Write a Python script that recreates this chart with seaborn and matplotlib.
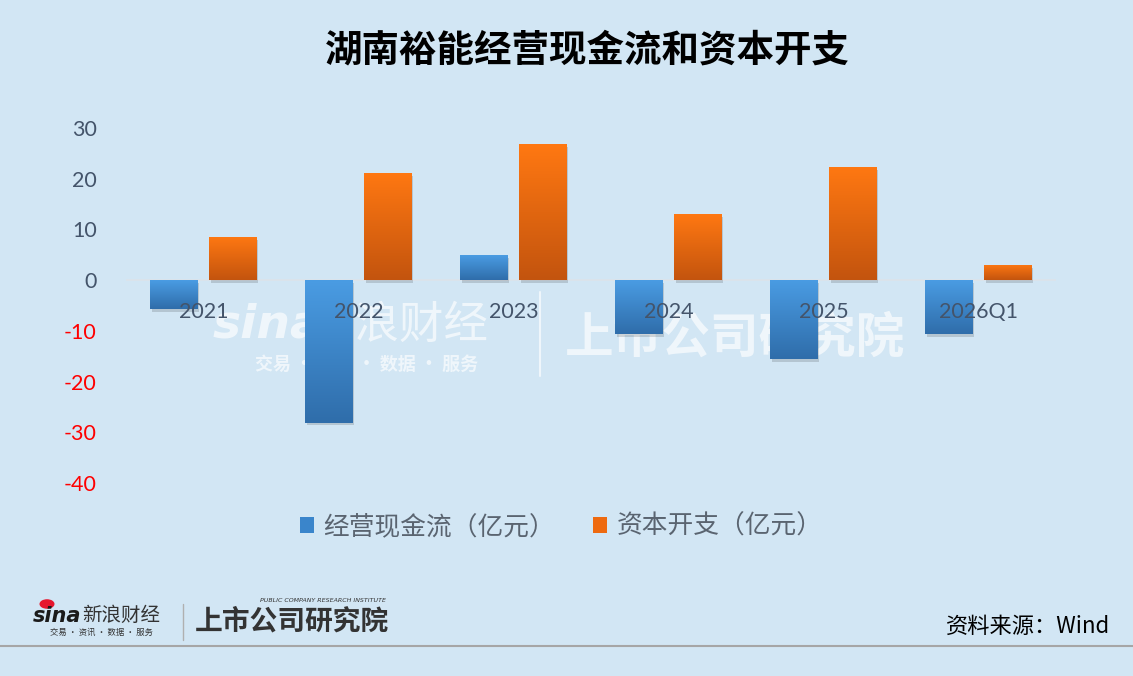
import numpy as np
import pandas as pd
import matplotlib
matplotlib.use('Agg')
import matplotlib.pyplot as plt
import seaborn as sns
from matplotlib.colors import LinearSegmentedColormap
from matplotlib.patches import Rectangle
from matplotlib.lines import Line2D
from matplotlib import patheffects as pe

# ---- data ----
categories = ['2021', '2022', '2023', '2024', '2025', '2026Q1']
operating_cf = [-5.7, -28.1, 4.9, -10.6, -15.6, -10.6]
capex = [8.5, 21.1, 26.8, 13.0, 22.3, 3.0]
series_names = ['经营现金流（亿元）', '资本开支（亿元）']
yticks = [30, 20, 10, 0, -10, -20, -30, -40]
title = '湖南裕能经营现金流和资本开支'
source = '资料来源：Wind'

# ---- style ----
sns.set_theme(style='white')
plt.rcParams['font.family'] = ['Noto Sans CJK SC', 'DejaVu Sans']
bg = '#D2E6F4'
grad_colors = [('#4A9CE3', '#2F6DAA'), ('#FF7812', '#C3540E')]
solid_colors = ['#3A85CB', '#EE6A10']

W, H = 1133, 676
fig = plt.figure(figsize=(W / 100, H / 100), dpi=100, facecolor=bg)
ax = fig.add_axes([126 / W, 1 - 483 / H, 930 / W, 355 / H])
ax.set_facecolor('none')

df = pd.DataFrame({
    'cat': categories * 2,
    'series': [series_names[0]] * len(categories) + [series_names[1]] * len(categories),
    'val': operating_cf + capex,
})
sns.barplot(data=df, x='cat', y='val', hue='series', order=categories,
            hue_order=series_names, palette=solid_colors, width=0.76, gap=0.2,
            ax=ax, zorder=3, linewidth=0, errorbar=None)
if ax.get_legend() is not None:
    ax.get_legend().remove()

# gradient fill + shadow
grad = np.linspace(0, 1, 256).reshape(-1, 1)
for cont, (ctop, cbot) in zip(ax.containers, grad_colors):
    cmap = LinearSegmentedColormap.from_list('g', [ctop, cbot])
    for bar in cont:
        bar.set_path_effects([pe.SimplePatchShadow(offset=(1, -2), shadow_rgbFace='#000000', alpha=0.14), pe.Normal()])
        x0 = bar.get_x(); w = bar.get_width()
        y0 = bar.get_y(); h = bar.get_height()
        ylo, yhi = min(y0, y0 + h), max(y0, y0 + h)
        im = ax.imshow(grad, cmap=cmap, aspect='auto', extent=(x0, x0 + w, ylo, yhi),
                       zorder=3.5, interpolation='bilinear')
        im.set_clip_path(bar)

ax.set_xlim(-0.5, len(categories) - 0.5)
ax.set_ylim(-40, 30)
ax.axhline(0, color='#DCE3EA', lw=1.2, zorder=2)

for s in ax.spines.values():
    s.set_visible(False)
ax.spines['bottom'].set_position(('data', 0))

ax.set_xlabel('')
ax.set_ylabel('')
ax.set_yticks(yticks)
ax.set_yticklabels([str(v) for v in yticks])
ax.tick_params(axis='y', length=0, pad=21, labelsize=15.5)
ax.tick_params(axis='x', length=0, pad=16, labelsize=15.5)
for lab, v in zip(ax.get_yticklabels(), yticks):
    lab.set_color('#FF0000' if v < 0 else '#44546A')
    lab.set_fontfamily(['Lato', 'DejaVu Sans'])
for lab in ax.get_xticklabels():
    lab.set_color('#44546A')
    lab.set_fontfamily(['Lato', 'DejaVu Sans'])
ax.xaxis.set_zorder(10)
ax.grid(False)

# legend
handles = [Rectangle((0, 0), 1, 1, facecolor=c, edgecolor='none') for c in solid_colors]
leg = fig.legend(handles, series_names, loc='center', bbox_to_anchor=(561 / W, 1 - 527 / H),
                 ncol=2, frameon=False, fontsize=18.5, handlelength=0.55, handleheight=0.55,
                 handletextpad=0.35, columnspacing=1.5)
for t in leg.get_texts():
    t.set_color('#5A6470')

# title
fig.text(587 / W, 1 - 50 / H, title, ha='center', va='center', fontsize=27,
         fontweight='bold', color='#000000')

# watermark (behind bars)
wm = dict(color='white', alpha=0.65, zorder=-1)
fig.text(213 / W, 1 - 325 / H, 'sina', fontsize=34, fontweight='bold', style='italic',
         ha='left', va='center', family=['DejaVu Sans'], **wm)
fig.text(310 / W, 1 - 325 / H, '新浪财经', fontsize=32, ha='left', va='center', **wm)
fig.text(255 / W, 1 - 364 / H, '交易 · 资讯 · 数据 · 服务', fontsize=13, fontweight='bold',
         ha='left', va='center', **wm)
fig.add_artist(Line2D([540 / W, 540 / W], [1 - 292 / H, 1 - 376 / H], color='white',
                      alpha=0.65, lw=1.5, zorder=-1))
fig.text(565 / W, 1 - 338 / H, '上市公司研究院', fontsize=35, fontweight='heavy',
         style='italic', ha='left', va='center', **wm)

# footer
fig.add_artist(Line2D([0, 1], [1 - 646 / H, 1 - 646 / H], color='#A6A6A6', lw=1.5))
fig.text(1110 / W, 1 - 626 / H, source, ha='right', va='center', fontsize=16, color='#000000')
fig.text(33 / W, 1 - 616 / H, 'sina', fontsize=15, fontweight='bold', style='italic',
         ha='left', va='center', color='#1A1A1A', family=['DejaVu Sans'])
fig.add_artist(plt.Circle((47 / W, 1 - 604 / H), 0.006, transform=fig.transFigure,
                          color='#E6162D'))
fig.text(82 / W, 1 - 615 / H, '新浪财经', fontsize=14, ha='left', va='center', color='#333333')
fig.text(50 / W, 1 - 632 / H, '交易 · 资讯 · 数据 · 服务', fontsize=6, ha='left', va='center',
         color='#333333')
fig.add_artist(Line2D([183 / W, 183 / W], [1 - 604 / H, 1 - 640 / H], color='#B0B0B0', lw=1))
fig.text(195 / W, 1 - 622 / H, '上市公司研究院', fontsize=20, fontweight='heavy', style='italic',
         ha='left', va='center', color='#333333')
fig.text(260 / W, 1 - 600 / H, 'PUBLIC COMPANY RESEARCH INSTITUTE', fontsize=4.5, style='italic',
         ha='left', va='center', color='#333333', family=['DejaVu Sans'])

fig.savefig('out.png', dpi=100, facecolor=bg)
